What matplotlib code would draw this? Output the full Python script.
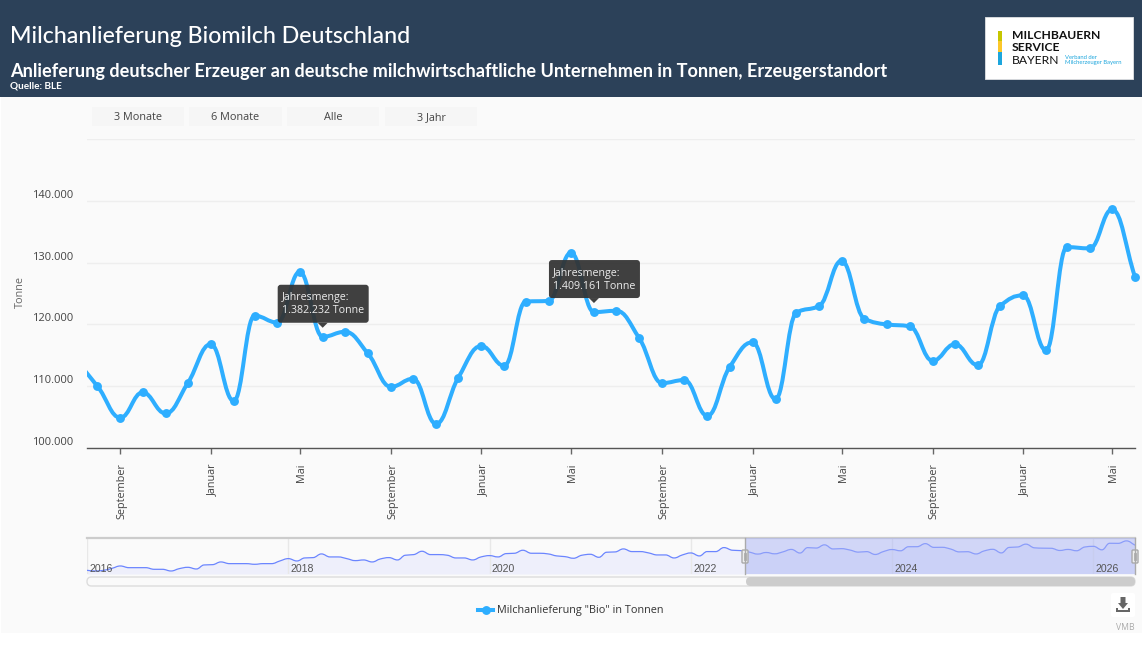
import numpy as np
import pandas as pd
import matplotlib
matplotlib.use("Agg")
import matplotlib.pyplot as plt
import matplotlib.dates as mdates
from matplotlib.path import Path
from matplotlib.patches import PathPatch, Rectangle, FancyBboxPatch, Polygon
from matplotlib.lines import Line2D
from matplotlib.transforms import ScaledTranslation

# ---- data (tonnes, monthly) ----
history_values = [
    63400, 61700, 63400, 68500, 74500, 70200, 70200, 70200, 66000, 66000, 61700, 67700,
    71100, 66800, 77100, 77900, 84800, 80500, 80500, 80500, 78800, 80500, 80500, 87300,
    93300, 87300, 95000, 95900, 105300, 97600, 97600, 93300, 88200, 89900, 84800, 92500,
    95900, 89900, 101900, 103600, 112100, 103600, 103600, 101900, 95000, 95000, 89900, 97600,
    101000, 97600, 106100, 107000, 114700, 107000, 107000, 105300, 100200, 98400, 94200, 101900,
    104400, 96700, 109600, 110400, 118100, 111300, 111300, 107800, 102700, 102700, 95000, 102700,
    107800, 100200, 111300, 111300, 121500, 114700, 113800]
recent_values = [
    110000, 104900, 109000, 105600, 110500,
    116800, 107600, 121400, 120300, 128500, 118000, 118800, 115300, 109900, 111200, 103900, 111400,
    116500, 113300, 123700, 123800, 131600, 122000, 122200, 117800, 110500, 111000, 105200, 113100,
    117100, 107900, 121900, 123000, 130300, 120900, 120000, 119700, 114100, 116800, 113400, 123000,
    124700, 115800, 132500, 132300, 138600, 127700]
y_ticks = [100000, 110000, 120000, 130000, 140000, 150000]
y_tick_labels = ["100.000", "110.000", "120.000", "130.000", "140.000", ""]
month_names = {1: "Januar", 5: "Mai", 9: "September"}
range_buttons = ["3 Monate", "6 Monate", "Alle", "3 Jahr"]
tooltip_months = ["2023-06-01", "2024-06-01"]
tooltip_texts = ["Jahresmenge:\n1.382.232 Tonne", "Jahresmenge:\n1.409.161 Tonne"]
series_name = 'Milchanlieferung "Bio" in Tonnen'

all_values = np.array(history_values + recent_values, dtype=float)
all_dates = pd.date_range("2016-01-01", periods=len(all_values), freq="MS")

W, H = 1142, 671
UI = "Open Sans"
TITLE = "Lato"
BLUE = "#2eaeff"

fig = plt.figure(figsize=(W / 100, H / 100), dpi=100, facecolor="white")


def px_axes(x0, y0, x1, y1, **kw):
    return fig.add_axes([x0 / W, 1 - y1 / H, (x1 - x0) / W, (y1 - y0) / H], **kw)


# ---- background layer ----
bg = fig.add_axes([0, 0, 1, 1], zorder=0)
bg.set_xlim(0, W)
bg.set_ylim(H, 0)
bg.axis("off")
bg.add_patch(Rectangle((1, 97), W - 1, 536, fc="#fafafa", ec="none"))
bg.add_patch(Rectangle((0, 0), W, 97, fc="#2c4159", ec="none"))
bg.text(10, 36.5, "Milchanlieferung Biomilch Deutschland", color="white", family=TITLE,
        fontsize=16.7, fontweight="medium", va="center", ha="left")
bg.text(10, 71, "Anlieferung deutscher Erzeuger an deutsche milchwirtschaftliche Unternehmen in Tonnen, Erzeugerstandort",
        color="white", family=TITLE, fontsize=13.08, fontweight="bold", va="center", ha="left")
bg.text(10, 86.5, "Quelle: BLE", color="white", family=TITLE, fontsize=7.2, fontweight="bold", va="center", ha="left")

# logo
bg.add_patch(Rectangle((985, 17), 148, 62, fc="white", ec="#d5d8dc", lw=0.7))
for y0, y1, c in [(31, 41, "#c6c600"), (41, 52, "#fcc72a"), (52, 65, "#1da6dd")]:
    bg.add_patch(Rectangle((998, y0), 3.5, y1 - y0, fc=c, ec="none"))
bg.text(1012, 35.5, "MILCHBAUERN", color="#111", family=TITLE, fontsize=8.7, fontweight="bold", va="center")
bg.text(1012, 47.5, "SERVICE", color="#111", family=TITLE, fontsize=8.7, fontweight="bold", va="center")
bg.text(1012, 60.5, "BAYERN", color="#111", family=TITLE, fontsize=8.7, va="center")
bg.text(1065, 57.5, "Verband der", color="#1da6dd", family=TITLE, fontsize=4.2, va="center")
bg.text(1065, 62.5, "Milcherzeuger Bayern", color="#1da6dd", family=TITLE, fontsize=4.2, va="center")

# range buttons
for (x0, x1), lab in zip([(92, 184), (189, 282), (287, 379), (385, 477)], range_buttons):
    bg.add_patch(Rectangle((x0, 107), x1 - x0, 19, fc="#f6f6f6", ec="none"))
    bg.text((x0 + x1) / 2, 118, lab, color="#444", family=UI, fontsize=7.8, ha="center", va="center")

bg.text(20, 292, "Tonne", color="#666", family=UI, fontsize=7.8, rotation=90, ha="center", va="center")

# download icon and footer
bg.add_patch(FancyBboxPatch((1111, 593), 24, 24, boxstyle="round,pad=0,rounding_size=2", fc="white", ec="none"))
bg.add_patch(Polygon([(1120.5, 597), (1125.5, 597), (1125.5, 603), (1128, 603), (1123, 609), (1118, 603), (1120.5, 603)],
                     fc="#666", ec="none"))
bg.add_patch(Polygon([(1116, 608), (1118, 608), (1118, 610), (1128, 610), (1128, 608), (1130, 608), (1130, 612), (1116, 612)],
                     fc="#666", ec="none"))
bg.text(1135, 627.5, "VMB", color="#aaa", family=UI, fontsize=6.2, ha="right", va="center")

# scrollbar
bg.add_patch(FancyBboxPatch((87, 577), 1048, 9, boxstyle="round,pad=0,rounding_size=4.5", fc="#fafafa", ec="#dddddd", lw=1))
bg.add_patch(FancyBboxPatch((746, 577), 389, 9, boxstyle="round,pad=0,rounding_size=4.5", fc="#cccccc", ec="none"))


def smooth_path(ax, dates, values, handle=0.42):
    """Monotone cubic curve through the points, in data coordinates."""
    x = mdates.date2num(dates)
    y = np.asarray(values, dtype=float)
    dx = np.diff(x)
    sl = np.diff(y) / dx
    m = np.zeros_like(y)
    m[0], m[-1] = sl[0], sl[-1]
    for i in range(1, len(y) - 1):
        if sl[i - 1] * sl[i] > 0:
            m[i] = 2 * sl[i - 1] * sl[i] / (sl[i - 1] + sl[i])
    verts = [(x[0], y[0])]
    codes = [Path.MOVETO]
    for i in range(len(y) - 1):
        h = dx[i] * handle
        verts += [(x[i] + h, y[i] + m[i] * h), (x[i + 1] - h, y[i + 1] - m[i + 1] * h), (x[i + 1], y[i + 1])]
        codes += [Path.CURVE4] * 3
    return Path(np.array(verts), codes)


# ---- main chart ----
ax = px_axes(87, 139, 1135, 448, zorder=1)
ax.patch.set_alpha(0)
start = pd.Timestamp("2022-07-18")
end = all_dates[-1]
ax.set_xlim(start, end)
ax.set_ylim(y_ticks[0], y_ticks[-1])
ax.set_yticks(y_ticks)
ax.set_yticklabels(y_tick_labels, family=UI, fontsize=8, color="#444", va="bottom")
nudge_y = ScaledTranslation(0, -1 / 72 * 0.72, fig.dpi_scale_trans)
for lab in ax.get_yticklabels():
    lab.set_transform(lab.get_transform() + nudge_y)
ax.grid(axis="y", color="#eeeeee", lw=1)
ax.set_axisbelow(True)
for s in ["top", "right", "left"]:
    ax.spines[s].set_visible(False)
ax.spines["bottom"].set_color("#555555")
ax.spines["bottom"].set_linewidth(1)
ax.tick_params(axis="y", length=0, pad=10)
tick_dates = [d for d in all_dates if d >= start and d.month in month_names]
ax.set_xticks(tick_dates)
ax.set_xticklabels([month_names[d.month] for d in tick_dates], rotation=90, family=UI, fontsize=7.8, color="#444")
ax.tick_params(axis="x", length=4.3, width=1, color="#666666", pad=6.5)
nudge_x = ScaledTranslation(1.8 / 100, 0, fig.dpi_scale_trans)
for lab in ax.get_xticklabels():
    lab.set_transform(lab.get_transform() + nudge_x)

clip_rect = Rectangle((87, 0), 1070, H, transform=bg.transData)
curve = PathPatch(smooth_path(ax, all_dates, all_values), fc="none", ec=BLUE, lw=2.9, zorder=3, capstyle="round")
ax.add_patch(curve)
curve.set_clip_path(clip_rect)
vis = all_dates >= start
ax.plot(all_dates[vis], all_values[vis], "o", color=BLUE, ms=6.4, mew=0, zorder=4, clip_on=False)

legend = fig.legend(handles=[Line2D([], [], color=BLUE, lw=2.9, marker="o", ms=6.4, mew=0, label=series_name)],
                    loc="center", bbox_to_anchor=(571 / W, 1 - 611 / H), frameon=False,
                    prop={"family": UI, "size": 7.8}, handlelength=1.35, handletextpad=0.4, labelcolor="#333333")

# ---- navigator ----
nav = px_axes(87, 538, 1135, 574, zorder=1)
nav.patch.set_alpha(0)
nav.set_xlim(all_dates[0], all_dates[-1])
nav.set_ylim(54000, 146000)
nav.set_yticks([])
year_ticks = pd.date_range("2016-01-01", "2026-01-01", freq="2YS")
nav.set_xticks(year_ticks)
nav.set_xticklabels([])
nav.tick_params(axis="x", length=0)
nav.grid(axis="x", color="#e8e8e8", lw=1)
for s in ["left", "right", "bottom"]:
    nav.spines[s].set_visible(False)
nav.spines["top"].set_color("#cccccc")
nav.spines["top"].set_linewidth(1.6)
nav.fill_between(all_dates, 54000, all_values, color="#eeeffb", lw=0, zorder=1)
nav.add_patch(PathPatch(smooth_path(nav, all_dates, all_values), fc="none", ec="#6b85ff", lw=0.9, zorder=2))
sel_start = mdates.date2num(pd.Timestamp("2022-07-15"))
nav.axvspan(sel_start, mdates.date2num(all_dates[-1]), color="#aab4f5", alpha=0.5, lw=0, zorder=3)
for t in year_ticks:
    nav.text(t + pd.Timedelta(days=9), 67500, str(t.year), family="Liberation Sans", fontsize=7.6,
             color="#555555", ha="left", va="center", zorder=5)

# ---- top overlay: tooltips, navigator handles ----
top = fig.add_axes([0, 0, 1, 1], zorder=5)
top.set_xlim(0, W)
top.set_ylim(H, 0)
top.axis("off")
top.patch.set_alpha(0)
for x in (745, 1135):
    top.plot([x, x], [538, 574], color="#aaaaaa", lw=1)
    top.add_patch(FancyBboxPatch((x - 3, 550), 6, 13, boxstyle="round,pad=0,rounding_size=1", fc="#eeeeee", ec="#aaaaaa", lw=1))
    top.plot([x - 1, x - 1], [553, 560], color="#aaaaaa", lw=0.6)
    top.plot([x + 1, x + 1], [553, 560], color="#aaaaaa", lw=0.6)

for month, txt in zip(tooltip_months, tooltip_texts):
    d = pd.Timestamp(month)
    val = all_values[list(all_dates).index(d)]
    disp = ax.transData.transform((mdates.date2num(d), val))
    px, py = top.transData.inverted().transform(disp)
    x0, x1 = px - 45, px + 46
    y1 = py - 14
    y0 = y1 - 38
    dark = dict(fc="#323232", ec="none", alpha=0.93)
    top.add_patch(FancyBboxPatch((x0, y0), x1 - x0, y1 - y0, boxstyle="round,pad=0,rounding_size=3", **dark))
    top.add_patch(Polygon([(px - 5, y1), (px + 5, y1), (px, y1 + 5)], **dark))
    top.text(x0 + 4, (y0 + y1) / 2 + 0.5, txt, color="#eeeeee", family=UI, fontsize=7.7, ha="left", va="center", linespacing=1.25)

fig.savefig("out.png", dpi=100, facecolor="white")
